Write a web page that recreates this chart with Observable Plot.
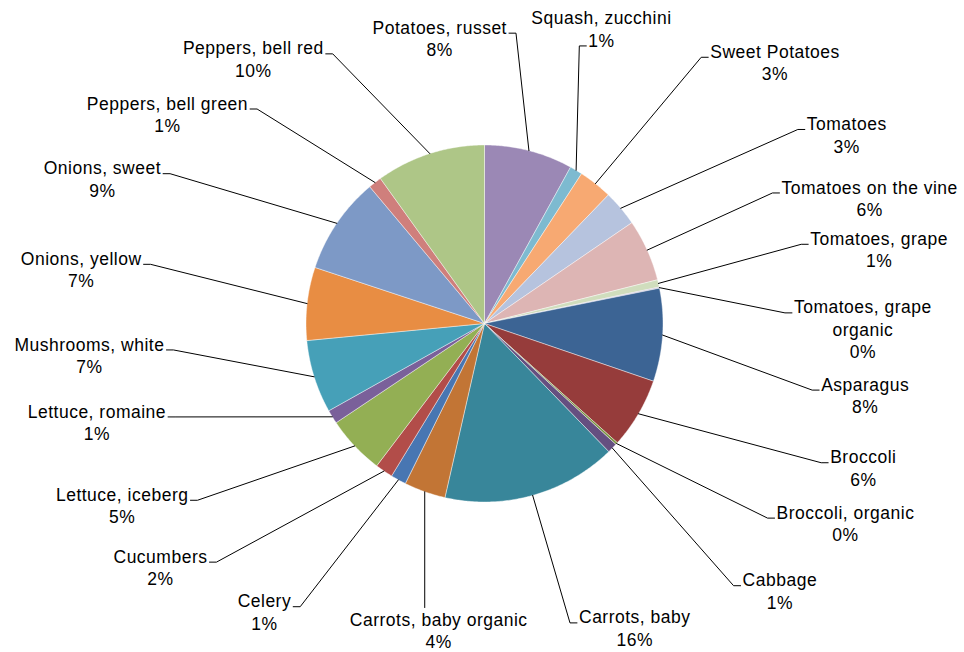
<!DOCTYPE html>
<html>
<head>
<meta charset="utf-8">
<script src="https://cdn.jsdelivr.net/npm/d3@7"></script>
<script src="https://cdn.jsdelivr.net/npm/@observablehq/plot@0.6"></script>
<style>
  html, body { margin: 0; padding: 0; background: #fff; }
</style>
</head>
<body>
<div id="chart"></div>
<script>
// ---- data (clockwise from 12 o'clock) ----
const categories = [
  "Potatoes, russet", "Squash, zucchini", "Sweet Potatoes", "Tomatoes",
  "Tomatoes on the vine", "Tomatoes, grape", "Tomatoes, grape organic",
  "Asparagus", "Broccoli", "Broccoli, organic", "Cabbage", "Carrots, baby",
  "Carrots, baby organic", "Celery", "Cucumbers", "Lettuce, iceberg",
  "Lettuce, romaine", "Mushrooms, white", "Onions, yellow", "Onions, sweet",
  "Peppers, bell green", "Peppers, bell red"
];
const values = [
  8.0, 1.14, 3.05, 3.25,
  5.6, 0.67, 0.1,
  8.4, 6.4, 0.2, 0.9, 15.8,
  3.75, 1.4, 1.6, 5.3,
  1.25, 6.6, 6.6, 8.8,
  1.2, 9.9
];
const colors = [
  "#9B88B5", "#7DBAD0", "#F7A972", "#B6C3DE",
  "#DDB5B4", "#D0DDBD", "#C5BBD6",
  "#3C6494", "#963C3B", "#7A9340", "#654F80", "#38869A",
  "#C27535", "#4876B2", "#B24D49", "#93AF54",
  "#7A609A", "#46A0B8", "#E88D43", "#7D99C6",
  "#CF7F7C", "#AEC687"
];
// data-label placement around the pie: direction (degrees clockwise from 12 o'clock)
// and distance from the pie centre, in units of the pie radius
const labelAngles = [
  351.1, 21.6, 48.0, 62.4,
  71.9, 79.3, 90.8,
  100.6, 110.8, 118.9, 132.1, 153.7,
  188.5, 217.4, 233.1, 243.4,
  255.8, 265.5, 277.7, 290.8,
  303.5, 318.9
];
const labelDistances = [
  1.62, 1.78, 2.19, 2.29,
  2.27, 2.25, 2.12,
  2.17, 2.27, 2.31, 2.23, 1.90,
  1.735, 2.03, 2.27, 2.27,
  2.24, 2.22, 2.28, 2.29,
  2.13, 1.97
];

// ---- layout ----
const W = 964, H = 652;
const cx = 484, cy = 323, R = 178.5;
const FS = 17.5, LH = 22.5, LS = 0.5;
const FONT = "'Liberation Sans', Arial, Helvetica, sans-serif";

const ctx = document.createElement("canvas").getContext("2d");
ctx.font = `${FS}px ${FONT}`;
const textW = s => ctx.measureText(s).width + LS * s.length;
const wrap = name => {
  if (name.length <= 22) return [name];
  const k = name.lastIndexOf(" ");
  return [name.slice(0, k), name.slice(k + 1)];
};

const total = d3.sum(values);
const arcs = d3.pie().sort(null).value(d => d)(values);

const slices = [];
arcs.forEach((p, i) => {
  const name = categories[i];
  slices.push({name, x: 0, y: 0});
  const n = Math.max(2, Math.ceil((p.endAngle - p.startAngle) / (Math.PI / 360)));
  for (let k = 0; k <= n; k++) {
    const a = p.startAngle + (p.endAngle - p.startAngle) * k / n;
    slices.push({name, x: R * Math.sin(a), y: -R * Math.cos(a)});
  }
  slices.push({name, x: 0, y: 0});
});

const labels = [], leaders = [];
arcs.forEach((p, i) => {
  const name = categories[i];
  const lines = [...wrap(name), Math.round(values[i] / total * 100) + "%"];
  const phi = labelAngles[i] * Math.PI / 180;
  const r = labelDistances[i] * R;
  const lx = r * Math.sin(phi), ly = -r * Math.cos(phi);
  labels.push({name, x: lx, y: ly, text: lines.join("\n")});

  const m = (p.startAngle + p.endAngle) / 2;
  const ax = R * Math.sin(m), ay = -R * Math.cos(m);
  const n = lines.length;
  const rows = lines.map((s, j) => {
    const w = textW(s);
    return {left: lx - w / 2, right: lx + w / 2, base: ly + (j - (n - 1) / 2) * LH + 0.32 * FS};
  });
  const top = rows[0].base - 0.72 * FS;
  let pts;
  if (ay < top && ax >= rows[0].left && ax <= rows[0].right) {
    pts = [[ax, ay], [ax, top - 4]];
  } else {
    const leftSide = lx > ax;
    let best = rows[0], bd = Infinity;
    for (const row of rows) {
      const e = leftSide ? row.left : row.right;
      const d = Math.abs(e - ax);
      if (d < bd) { bd = d; best = row; }
    }
    const e = leftSide ? best.left : best.right, s = leftSide ? -1 : 1;
    pts = [[ax, ay], [e + s * 9, best.base + 1], [e + s * 2, best.base + 1]];
  }
  pts.forEach(([x, y]) => leaders.push({name, x, y}));
});

const chart = Plot.plot({
  width: W,
  height: H,
  margin: 0,
  x: {domain: [-cx, W - cx], range: [0, W], axis: null},
  y: {domain: [-cy, H - cy], range: [0, H], axis: null},
  color: {domain: categories, range: colors},
  style: {background: "#fff", fontFamily: FONT, letterSpacing: LS + "px"},
  marks: [
    Plot.line(slices, {x: "x", y: "y", z: "name", fill: "name", stroke: "#ffffff",
      strokeWidth: 0.7, strokeOpacity: 0.6, curve: "linear"}),
    Plot.line(leaders, {x: "x", y: "y", z: "name", stroke: "#000", strokeWidth: 1, curve: "linear"}),
    Plot.text(labels, {x: "x", y: "y", text: "text", fontSize: FS, fontFamily: FONT,
      lineHeight: LH / FS, lineAnchor: "middle", textAnchor: "middle", fill: "#000"})
  ]
});
document.getElementById("chart").appendChild(chart);
</script>
</body>
</html>
